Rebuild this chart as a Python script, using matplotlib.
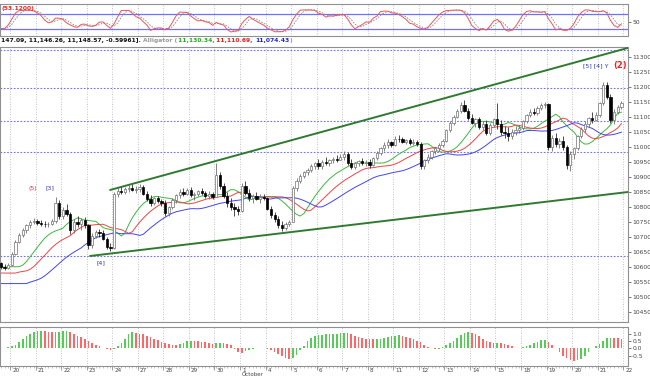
import numpy as np
import pandas as pd
import matplotlib
matplotlib.use("Agg")
import matplotlib.pyplot as plt
from matplotlib.patches import Rectangle
from matplotlib.transforms import blended_transform_factory

# ---------------- data (hourly bars, Sep 17 - Oct 21) ----------------
opens = [10612,10600,10596,
 10608,10645,10685,10708,10722,10740,10750,
 10754,10748,10745,10742,10745,10752,10815,
 10770,10790,10778,10725,10750,10742,10758,
 10739,10672,10705,10718,10712,10695,10668,
 10665,10842,10855,10850,10860,10865,10858,
 10860,10868,10845,10828,10815,10830,10820,
 10812,10780,10800,10825,10840,10850,10845,
 10858,10840,10845,10852,10848,10838,10845,
 10835,10905,10870,10838,10815,10800,10795,
 10788,10870,10848,10830,10838,10828,10835,
 10830,10795,10772,10760,10740,10730,10745,
 10751,10862,10888,10902,10915,10922,10938,
 10945,10935,10950,10945,10955,10960,10958,
 10968,10975,10948,10932,10945,10952,10945,
 10949,10940,10962,10980,10995,11008,11015,
 11006,11028,11025,11018,11022,11012,11018,
 11010,10935,10955,10968,10985,10995,11005,
 11020,11055,11080,11100,11120,11140,11120,
 11096,11080,11092,11065,11078,11048,11072,
 11094,11075,11050,11045,11035,11050,11058,
 11063,11085,11105,11118,11112,11130,11140,
 11144,11000,11030,11010,11020,11000,10940,
 10978,10995,11035,11060,11078,11095,11090,
 11108,11145,11205,11165,11090,11118,11132]
highs = [10618,10610,10612,
 10650,10690,10715,10730,10745,10758,10765,
 10760,10756,10752,10750,10760,10835,10822,
 10800,10810,10785,10760,10770,10765,10768,
 10742,10715,10725,10728,10722,10700,10680,
 10850,10862,10870,10868,10872,10875,10870,
 10875,10872,10855,10840,10835,10838,10828,
 10825,10805,10830,10845,10860,10865,10862,
 10868,10850,10858,10862,10855,10852,10850,
 10948,10915,10880,10850,10830,10815,10805,
 10880,10885,10860,10845,10850,10842,10845,
 10835,10805,10785,10770,10752,10750,10758,
 10870,10895,10910,10920,10930,10942,10950,
 10960,10958,10965,10960,10968,10972,10975,
 10985,10982,10960,10950,10958,10962,10955,
 10960,10968,10985,11000,11015,11025,11020,
 11035,11040,11032,11028,11030,11025,11024,
 11015,10960,10975,10990,11000,11012,11025,
 11060,11085,11105,11125,11150,11155,11130,
 11110,11098,11100,11085,11090,11080,11098,
 11148,11090,11070,11065,11060,11070,11072,
 11090,11110,11125,11130,11135,11148,11150,
 11145,11040,11045,11030,11035,11005,10985,
 11000,11040,11065,11085,11100,11115,11115,
 11150,11215,11215,11175,11125,11140,11152]
lows = [10595,10590,10592,
 10605,10640,10680,10700,10715,10730,10742,
 10740,10738,10735,10732,10740,10748,10760,
 10760,10770,10710,10715,10735,10725,10730,
 10660,10665,10698,10700,10690,10660,10652,
 10660,10835,10845,10842,10850,10852,10848,
 10850,10840,10820,10805,10808,10812,10805,
 10770,10770,10795,10815,10830,10838,10840,
 10835,10825,10838,10840,10830,10828,10828,
 10832,10860,10830,10800,10790,10770,10775,
 10785,10840,10820,10815,10822,10815,10822,
 10790,10765,10750,10730,10720,10722,10738,
 10750,10855,10880,10895,10905,10915,10928,
 10925,10928,10940,10935,10948,10950,10955,
 10955,10940,10925,10925,10935,10940,10935,
 10930,10935,10955,10972,10988,10998,11000,
 11002,11018,11012,11010,11008,11005,11004,
 10925,10928,10945,10960,10975,10985,11000,
 11015,11050,11072,11095,11112,11115,11090,
 11075,11065,11060,11055,11040,11040,11068,
 11060,11040,11030,11020,11025,11040,11045,
 11055,11080,11100,11105,11108,11122,11130,
 10990,10985,11000,10995,10990,10925,10920,
 10960,10990,11030,11050,11068,11080,11085,
 11100,11140,11160,11080,11075,11110,11125]
closes = [10600,10596,10608,
 10645,10685,10708,10722,10740,10750,10754,
 10748,10745,10742,10745,10752,10815,10770,
 10790,10778,10725,10750,10742,10758,10739,
 10672,10705,10718,10712,10695,10668,10662,
 10842,10855,10850,10860,10865,10858,10860,
 10868,10845,10828,10815,10830,10820,10812,
 10780,10800,10825,10840,10850,10845,10858,
 10840,10845,10852,10848,10838,10845,10835,
 10905,10870,10838,10815,10800,10795,10788,
 10870,10848,10830,10838,10828,10835,10830,
 10795,10772,10760,10740,10730,10745,10751,
 10862,10888,10902,10915,10922,10938,10945,
 10935,10950,10945,10955,10960,10958,10968,
 10975,10948,10932,10945,10952,10945,10949,
 10940,10962,10980,10995,11008,11015,11006,
 11028,11025,11018,11022,11012,11018,11010,
 10935,10955,10968,10985,10995,11005,11020,
 11055,11080,11100,11120,11140,11120,11096,
 11080,11092,11065,11078,11048,11072,11094,
 11075,11050,11045,11035,11050,11058,11063,
 11085,11105,11118,11112,11130,11140,11144,
 11000,11030,11010,11020,11000,10940,10978,
 10995,11035,11060,11078,11095,11090,11108,
 11145,11205,11165,11090,11118,11132,11146]

day_labels = ["20","21","22","23","24","27","28","29","30","1","4","5","6","7","8",
              "11","12","13","14","15","18","19","20","21","22"]
bars_before_first_day = 3
bars_per_day = 7

price_ticks = list(range(10450, 11301, 50))
level_lines = [11323, 11197, 11087, 10983, 10637]
upper_trend = [(30, 10857), (171.8, 11330)]
lower_trend = [(24.5, 10637), (171.8, 10850)]
alligator_seeds = {"jaw": 10545, "teeth": 10580, "lips": 10600}
pre_window_level = 10590      # price level before the visible window (for AO warm-up)
osc_ticks = [1.0, 0.5, 0.0, -0.5]
osc_units = 100.0

# ---------------- indicators ----------------
o = np.array(opens, float); h = np.array(highs, float)
l = np.array(lows, float); c = np.array(closes, float)
n = len(c)
idx = np.arange(n)
med = (h + l) / 2

def smma(vals, period, seed):
    out = []
    prev = seed
    for v in vals:
        prev = (prev * (period - 1) + v) / period
        out.append(prev)
    return np.array(out)

def shifted(vals, shift, seed):
    return np.concatenate([np.full(shift, seed), vals[:len(vals) - shift]])

jaw = shifted(smma(med, 13, alligator_seeds["jaw"]), 8, alligator_seeds["jaw"])
teeth = shifted(smma(med, 8, alligator_seeds["teeth"]), 5, alligator_seeds["teeth"])
lips = shifted(smma(med, 5, alligator_seeds["lips"]), 3, alligator_seeds["lips"])

s_med = pd.Series(np.concatenate([np.full(34, pre_window_level), med]))
ao_full = (s_med.rolling(5).mean() - s_med.rolling(34).mean()).values
ao = ao_full[34:]
ao_prev = ao_full[33:-1]
ao_scaled = ao / osc_units

hh = pd.Series(h).rolling(5, min_periods=1).max()
ll = pd.Series(l).rolling(5, min_periods=1).min()
raw = 100 * (pd.Series(c) - ll) / (hh - ll)
k = raw.rolling(3, min_periods=1).mean()
d = k.rolling(3, min_periods=1).mean()

# ---------------- figure ----------------
W, H = 650, 377
fig = plt.figure(figsize=(6.5, 3.77), dpi=100)
fig.patch.set_facecolor("white")
right = 628 / W

def fy(px):
    return 1 - px / H

ax_top = fig.add_axes([0, fy(36), right, fy(4) - fy(36)])
ax = fig.add_axes([0, fy(322), right, fy(47) - fy(322)])
ax_bot = fig.add_axes([0, fy(366), right, fy(327) - fy(366)])

xlim = (-0.24, 171.8)
seps = [bars_before_first_day - 0.5 + bars_per_day * i for i in range(len(day_labels))]
grid_col = "#b0b0b0"
tick_fs = 4.3

for a in (ax_top, ax, ax_bot):
    a.set_xlim(*xlim)
    a.set_facecolor("white")
    for s in a.spines.values():
        s.set_color("#909090")
        s.set_linestyle((0, (1, 1)))
        s.set_linewidth(0.8)
    a.yaxis.tick_right()
    a.tick_params(axis="y", labelsize=tick_fs, length=2, width=0.5, colors="#444444", pad=1)
    a.tick_params(axis="x", bottom=False, labelbottom=False)
    for sx in seps:
        a.axvline(sx, color=grid_col, lw=0.6, ls=(0, (1, 2)), zorder=0)

# ---- main price panel ----
ax.set_ylim(10417, 11333)
ax.set_yticks(price_ticks)
ax.set_yticklabels([str(v) for v in price_ticks])
for v in level_lines:
    ax.axhline(v, color="#7070ff", lw=0.8, ls=(0, (1.5, 1.5)), zorder=1)

bw = 0.62
for i in range(n):
    up = c[i] >= o[i]
    ax.vlines(i, l[i], h[i], color="#303030" if not up else "#707070", lw=0.6, zorder=3)
    lo, hi = min(o[i], c[i]), max(o[i], c[i])
    if hi - lo < 2:
        hi = lo + 2
    ax.add_patch(Rectangle((i - bw / 2, lo), bw, hi - lo,
                           facecolor="white" if up else "black",
                           edgecolor="#707070" if up else "black", lw=0.5, zorder=4))

ax.plot(idx, lips, color="#3cb83c", lw=0.7, zorder=2)
ax.plot(idx, teeth, color="#ee4444", lw=0.7, zorder=2)
ax.plot(idx, jaw, color="#4444ee", lw=0.7, zorder=2)

ax.plot([upper_trend[0][0], upper_trend[1][0]], [upper_trend[0][1], upper_trend[1][1]],
        color="#2f7a2f", lw=1.4, zorder=5)
ax.plot([lower_trend[0][0], lower_trend[1][0]], [lower_trend[0][1], lower_trend[1][1]],
        color="#2f7a2f", lw=1.4, zorder=5)

ax.text(8.8, 10863, "(5)", color="#ee3333", fontsize=4.5, ha="center", va="center")
ax.text(13.5, 10863, "[3]", color="#3333aa", fontsize=4.5, ha="center", va="center")
ax.text(27.4, 10613, "[4]", color="#3333aa", fontsize=4.5, ha="center", va="center")
ax.text(166.5, 11270, "[5] [4] Y", color="#3333aa", fontsize=4.5, ha="right", va="center")
ax.text(169.5, 11270, "(2)", color="#ee2222", fontsize=6, ha="center", va="center", fontweight="bold")

# info line
parts = [("147.09, 11,146.26, 11,148.57, -0.59961]. ", "#111111"),
         ("Alligator (", "#999999"), ("11,130.34, ", "#22aa22"),
         ("11,110.69, ", "#dd2222"), ("11,074.43", "#2222dd"), (")", "#999999")]
t = fig.text(0.002, fy(40.5), parts[0][0], color=parts[0][1], fontsize=4.3,
             va="center", fontweight="bold")
fig.canvas.draw()
for txt, col in parts[1:]:
    t = ax.annotate(txt, xycoords=t, xy=(1, 0), va="bottom", color=col,
                    fontsize=4.3, fontweight="bold", annotation_clip=False)

# ---- stochastic panel ----
ax_top.set_ylim(-8, 120)
ax_top.set_yticks([50])
ax_top.set_yticklabels(["50"])
ax_top.axhline(80, color="#7070ff", lw=0.9)
ax_top.axhline(20, color="#7070ff", lw=0.9)
ax_top.plot(idx, d, color="#888888", lw=0.6, ls=(0, (2, 1.5)))
ax_top.plot(idx, k, color="#ee5555", lw=0.7)
ax_top.text(0.003, 0.93, "(53.1200)", transform=ax_top.transAxes, color="#ee2222",
            fontsize=4.3, va="top", fontweight="bold")

# ---- oscillator panel ----
ax_bot.set_ylim(-1.2, 1.45)
ax_bot.set_yticks(osc_ticks)
ax_bot.set_yticklabels(["1.0", "0.5", "0.0", "-0.5"])
cols = ["#55cc55" if ao[i] >= ao_prev[i] else "#ff6666" for i in range(n)]
ax_bot.bar(idx, ao_scaled, width=0.45, color=cols, zorder=2)

# x axis labels
ax_bot.tick_params(axis="x", bottom=True, length=3, width=0.5, colors="#777777")
ax_bot.set_xticks(seps)
ax_bot.set_xticks(idx, minor=True)
ax_bot.tick_params(axis="x", which="minor", length=1.5, width=0.4, colors="#999999")
btr = blended_transform_factory(ax_bot.transData, ax_bot.transAxes)
for sx, lab in zip(seps, day_labels):
    ax_bot.text(sx + 0.6, -0.04, lab, transform=btr, fontsize=4.1, color="#444444",
                ha="left", va="top")
ftr = blended_transform_factory(ax_bot.transData, fig.transFigure)
ax_bot.text(seps[9] + 0.6, fy(376.5), "October", transform=ftr, fontsize=4.0, color="#444444",
            ha="left", va="bottom")

fig.savefig("out.png", dpi=100)
